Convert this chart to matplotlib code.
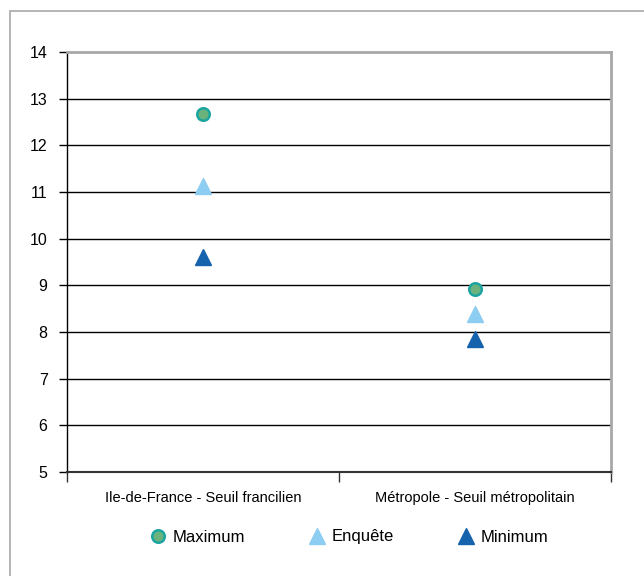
import matplotlib.pyplot as plt
from matplotlib.patches import Rectangle

plt.rcParams['font.family'] = ['Liberation Sans Narrow', 'Liberation Sans', 'DejaVu Sans']

categories = ['Ile-de-France - Seuil francilien', 'Métropole - Seuil métropolitain']
maximum = [12.67, 8.92]
enquete = [11.13, 8.39]
minimum = [9.61, 7.85]

fig = plt.figure(figsize=(6.44, 5.76), dpi=100)
# cadre extérieur
fig.patches.append(Rectangle((10 / 644, -0.01), 1.0, 1 - 11 / 576 + 0.01,
                             transform=fig.transFigure, fill=False,
                             edgecolor='#a8a8a8', linewidth=1.2))

ax = fig.add_axes([67 / 644, 1 - 472 / 576, (611 - 67) / 644, (472 - 52) / 576])

x = list(range(len(categories)))
ax.set_ylim(5, 14)
ax.set_xlim(-0.5, len(categories) - 0.5)

for v in range(6, 14):
    ax.axhline(v, color='black', linewidth=1, zorder=1)

ax.plot(x, maximum, linestyle='none', marker='o', markersize=9,
        markerfacecolor='#6cb27c', markeredgecolor='#1aa5a0', markeredgewidth=1.8,
        label='Maximum', zorder=3)
ax.plot(x, enquete, linestyle='none', marker='^', markersize=11,
        color='#8dcdf2', label='Enquête', zorder=3)
ax.plot(x, minimum, linestyle='none', marker='^', markersize=11,
        color='#1663ad', label='Minimum', zorder=3)

ax.set_yticks(range(5, 15))
ax.tick_params(axis='y', labelsize=11.5, length=6, width=1, direction='out', pad=8)
ax.set_xticks(x)
ax.set_xticklabels(categories, fontsize=10.5)
ax.tick_params(axis='x', length=0, pad=14)
ax.set_xticks([-0.5, 0.5, 1.5], minor=True)
ax.tick_params(axis='x', which='minor', length=7, width=1, color='#333333')

ax.spines['top'].set_color('#a8a8a8')
ax.spines['top'].set_linewidth(2)
ax.spines['right'].set_color('#a8a8a8')
ax.spines['right'].set_linewidth(2)
ax.spines['left'].set_linewidth(1)
ax.spines['bottom'].set_color('#333333')
ax.spines['bottom'].set_linewidth(1.5)

fig.legend(loc='center', bbox_to_anchor=(348 / 644, 1 - 537 / 576), ncol=3,
           frameon=False, fontsize=12, handletextpad=0.3, columnspacing=3.7,
           handlelength=1.2)

fig.savefig('out.png', dpi=100)
